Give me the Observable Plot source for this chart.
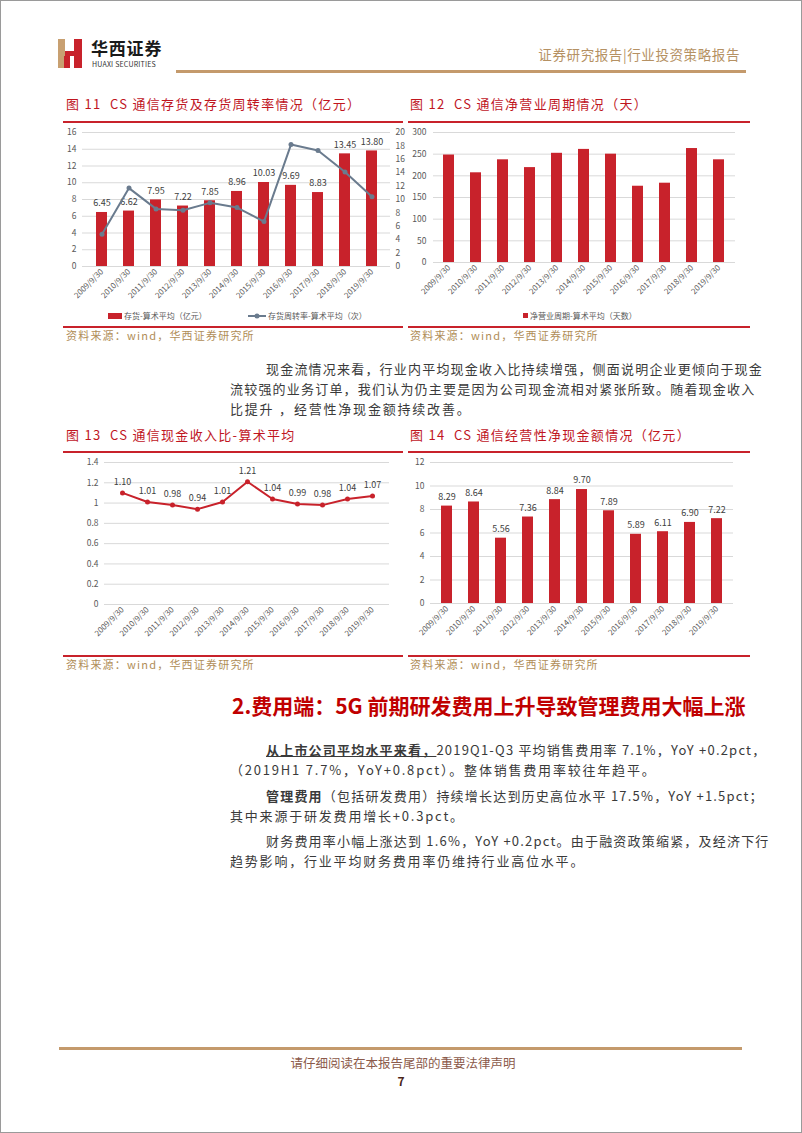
<!DOCTYPE html>
<html><head><meta charset="utf-8">
<script src="https://cdn.jsdelivr.net/npm/d3@7"></script>
<script src="https://cdn.jsdelivr.net/npm/@observablehq/plot@0.6"></script>
<style>
body{margin:0;width:802px;height:1133px;position:relative;background:#fff;font-family:"Noto Sans CJK SC",sans-serif;overflow:hidden}
.a{position:absolute;white-space:pre;line-height:1}
.frame{position:absolute;left:0;top:0;width:800px;height:1131px;border:1px solid #9a9a9a}
.title{font-size:13px;color:#c0161f;letter-spacing:1.3px}
.rl{position:absolute;height:2px;background:#c8222b}
.src{font-size:11px;color:#b08d57;letter-spacing:1.2px}
.p{font-size:13px;color:#3a3a3a}
.full{text-align:justify;text-align-last:justify;letter-spacing:1.2px}
.part{letter-spacing:1.8px}
.lg{font-size:8px;color:#595959}
.chart{position:absolute}
.chart svg{overflow:visible}
</style></head><body>
<div class="frame"></div>
<!-- header -->
<svg class="a" style="left:58px;top:39px" width="26" height="30" viewBox="0 0 26 30">
  <rect x="0" y="0" width="7" height="29" fill="#c8a071"/>
  <rect x="7" y="12" width="12" height="5" fill="#c8222b"/>
  <rect x="16" y="0" width="8" height="29" fill="#c8222b"/>
  <rect x="6" y="17" width="6" height="12" fill="#c8222b"/>
</svg>
<div class="a" style="left:91px;top:39px;font-size:17px;font-weight:700;color:#1a1a1a;letter-spacing:0.8px">华西证券</div>
<div class="a" style="left:92px;top:61px;font-size:7px;color:#333;letter-spacing:0.2px">HUAXI SECURITIES</div>
<div class="a" style="right:62px;top:48px;font-size:13.5px;color:#b59163;letter-spacing:0.6px">证券研究报告|行业投资策略报告</div>
<div class="a" style="left:176px;top:70px;width:570px;height:3px;background:#c49a6c"></div>

<!-- titles row 1 -->
<div class="a title" style="left:66px;top:97px">图 11  CS 通信存货及存货周转率情况（亿元）</div>
<div class="rl" style="left:63px;top:121px;width:340px"></div>
<div class="a title" style="left:410px;top:97px">图 12  CS 通信净营业周期情况（天）</div>
<div class="rl" style="left:408px;top:121px;width:342px"></div>
<div id="c11" class="chart" style="left:55px;top:122px"></div>
<div id="c12" class="chart" style="left:400px;top:122px"></div>
<!-- legends row 1 -->
<div class="a" style="left:108px;top:313px;width:14px;height:6px;background:#c8222b"></div>
<div class="a lg" style="left:124px;top:312px">存货-算术平均（亿元）</div>
<svg class="a" style="left:247px;top:311px" width="20" height="10"><line x1="1" y1="5" x2="19" y2="5" stroke="#6a7b8e" stroke-width="2"/><circle cx="10" cy="5" r="2.5" fill="#6a7b8e"/></svg>
<div class="a lg" style="left:268px;top:312px">存货周转率-算术平均（次）</div>
<div class="a" style="left:523px;top:313px;width:5px;height:5px;background:#c8222b"></div>
<div class="a lg" style="left:530px;top:312px">净营业周期-算术平均（天数）</div>
<div class="rl" style="left:63px;top:326px;width:340px"></div>
<div class="rl" style="left:408px;top:326px;width:342px"></div>
<div class="a src" style="left:66px;top:330px">资料来源：wind，华西证券研究所</div>
<div class="a src" style="left:410px;top:330px">资料来源：wind，华西证券研究所</div>

<!-- paragraph 1 -->
<div class="a p full" style="left:266px;top:362px;width:489px">现金流情况来看，行业内平均现金收入比持续增强，侧面说明企业更倾向于现金</div>
<div class="a p full" style="left:230px;top:382px;width:525px">流较强的业务订单，我们认为仍主要是因为公司现金流相对紧张所致。随着现金收入</div>
<div class="a p part" style="left:230px;top:402px">比提升 ，经营性净现金额持续改善。</div>

<!-- titles row 2 -->
<div class="a title" style="left:66px;top:428px">图 13  CS 通信现金收入比-算术平均</div>
<div class="rl" style="left:63px;top:451px;width:340px"></div>
<div class="a title" style="left:410px;top:428px">图 14  CS 通信经营性净现金额情况（亿元）</div>
<div class="rl" style="left:408px;top:451px;width:342px"></div>
<div id="c13" class="chart" style="left:55px;top:452px"></div>
<div id="c14" class="chart" style="left:400px;top:452px"></div>
<div class="rl" style="left:63px;top:655px;width:340px"></div>
<div class="rl" style="left:408px;top:655px;width:342px"></div>
<div class="a src" style="left:66px;top:659px">资料来源：wind，华西证券研究所</div>
<div class="a src" style="left:410px;top:659px">资料来源：wind，华西证券研究所</div>

<!-- heading -->
<div class="a" style="left:232px;top:695px;font-size:21px;font-weight:700;color:#c00000">2.费用端：5G 前期研发费用上升导致管理费用大幅上涨</div>

<!-- paragraphs -->
<div class="a p full" style="left:266px;top:743px;width:489px"><span style="font-weight:700;text-decoration:underline">从上市公司平均水平来看，</span>2019Q1-Q3 平均销售费用率 7.1%，YoY +0.2pct，</div>
<div class="a p part" style="left:230px;top:763px">（2019H1 7.7%，YoY+0.8pct）。整体销售费用率较往年趋平。</div>
<div class="a p full" style="left:266px;top:789px;width:489px"><b>管理费用</b>（包括研发费用）持续增长达到历史高位水平 17.5%，YoY +1.5pct；</div>
<div class="a p part" style="left:230px;top:809px">其中来源于研发费用增长+0.3pct。</div>
<div class="a p full" style="left:266px;top:834px;width:489px">财务费用率小幅上涨达到 1.6%，YoY +0.2pct。由于融资政策缩紧，及经济下行</div>
<div class="a p part" style="left:230px;top:854px">趋势影响，行业平均财务费用率仍维持行业高位水平。</div>

<!-- footer -->
<div class="a" style="left:59px;top:1047px;width:683px;height:3px;background:#c49a6c"></div>
<div class="a" style="left:0;width:806px;text-align:center;top:1057px;font-size:12.5px;color:#8b5a4a">请仔细阅读在本报告尾部的重要法律声明</div>
<div class="a" style="left:0;width:802px;text-align:center;top:1075px;font-size:12px;font-weight:700;color:#4a2418">7</div>

<script>
const years = ["2009/9/30","2010/9/30","2011/9/30","2012/9/30","2013/9/30","2014/9/30","2015/9/30","2016/9/30","2017/9/30","2018/9/30","2019/9/30"];
const inventory = [6.45,6.62,7.95,7.22,7.85,8.96,10.03,9.69,8.83,13.45,13.80];
const turnover = [4.8,11.7,8.6,8.4,9.5,8.8,6.7,18.2,17.3,14.1,10.4];
const netCycle = [248,207,237,219,252,261,250,176,183,263,237];
const cashRatio = [1.10,1.01,0.98,0.94,1.01,1.21,1.04,0.99,0.98,1.04,1.07];
const opCash = [8.29,8.64,5.56,7.36,8.84,9.70,7.89,5.89,6.11,6.90,7.22];

const RED = "#c8222b", LINE_RED = "#c8222b", SLATE = "#6a7b8e", GRID = "#d9d9d9", LBL = "#404040";
const style = {fontFamily:'"Noto Sans CJK SC", sans-serif', fontSize:"8px", color:"#595959", background:"transparent", overflow:"visible"};
const xAxis = () => Plot.axisX({tickRotate:-45, tickSize:0, tickPadding:4, label:null, fontSize:8});
const grid = t => Plot.gridY(t, {stroke:GRID, strokeOpacity:1});

// Figure 11
const d11 = years.map((y,i)=>({year:y, inv:inventory[i], turn:turnover[i]}));
const leftT11 = d3.range(0,17,2);
const rightT11 = d3.range(0,21,2);
document.getElementById("c11").append(Plot.plot({
  width:355, height:190, marginTop:10, marginRight:20, marginBottom:46, marginLeft:27, style,
  x:{domain:years, paddingInner:0.6, paddingOuter:0.32},
  y:{domain:[0,16]},
  marks:[
    grid(leftT11),
    Plot.axisY(leftT11, {tickSize:0, tickPadding:6, label:null, fontSize:8.5}),
    Plot.axisY(rightT11.map(v=>v*16/20), {anchor:"right", tickSize:0, tickPadding:5, label:null, fontSize:8.5, tickFormat:d=>Math.round(d*20/16)}),
    xAxis(),
    Plot.barY(d11, {x:"year", y:"inv", fill:RED}),
    Plot.text(d11, {x:"year", y:"inv", text:d=>d.inv.toFixed(2), dy:-9, fontSize:9, fill:LBL}),
    Plot.line(d11, {x:"year", y:d=>d.turn*16/20, stroke:SLATE, strokeWidth:2}),
    Plot.dot(d11, {x:"year", y:d=>d.turn*16/20, fill:SLATE, r:2.5})
  ]
}));

// Figure 12
const d12 = years.map((y,i)=>({year:y, v:netCycle[i]}));
const t12 = d3.range(0,301,50);
document.getElementById("c12").append(Plot.plot({
  width:355, height:186, marginTop:10, marginRight:20, marginBottom:46, marginLeft:33, style,
  x:{domain:years, paddingInner:0.58, paddingOuter:0.3},
  y:{domain:[0,300]},
  marks:[
    grid(t12),
    Plot.axisY(t12, {tickSize:0, tickPadding:7, label:null, fontSize:8.5}),
    xAxis(),
    Plot.barY(d12, {x:"year", y:"v", fill:RED})
  ]
}));

// Figure 13
const d13 = years.map((y,i)=>({year:y, v:cashRatio[i]}));
const t13 = d3.range(0,1.41,0.2).map(v=>+v.toFixed(1));
document.getElementById("c13").append(Plot.plot({
  width:345, height:194, marginTop:10, marginRight:11, marginBottom:42, marginLeft:49, style,
  x:{domain:years, type:"point", padding:0.5},
  y:{domain:[0,1.4]},
  marks:[
    grid(t13),
    Plot.axisY(t13, {tickSize:0, tickPadding:6, label:null, fontSize:8.5, tickFormat:d=>String(+d.toFixed(1))}),
    xAxis(),
    Plot.line(d13, {x:"year", y:"v", stroke:LINE_RED, strokeWidth:2}),
    Plot.dot(d13, {x:"year", y:"v", fill:LINE_RED, r:2.5}),
    Plot.text(d13, {x:"year", y:"v", text:d=>d.v.toFixed(2), dy:-11, fontSize:9, fill:LBL})
  ]
}));

// Figure 14
const d14 = years.map((y,i)=>({year:y, v:opCash[i]}));
const t14 = d3.range(0,13,2);
document.getElementById("c14").append(Plot.plot({
  width:355, height:193, marginTop:10, marginRight:22, marginBottom:42, marginLeft:30, style,
  x:{domain:years, paddingInner:0.58, paddingOuter:0.3},
  y:{domain:[0,12]},
  marks:[
    grid(t14),
    Plot.axisY(t14, {tickSize:0, tickPadding:6, label:null, fontSize:8.5}),
    xAxis(),
    Plot.barY(d14, {x:"year", y:"v", fill:RED}),
    Plot.text(d14, {x:"year", y:"v", text:d=>d.v.toFixed(2), dy:-9, fontSize:9, fill:LBL})
  ]
}));
</script>
</body></html>
